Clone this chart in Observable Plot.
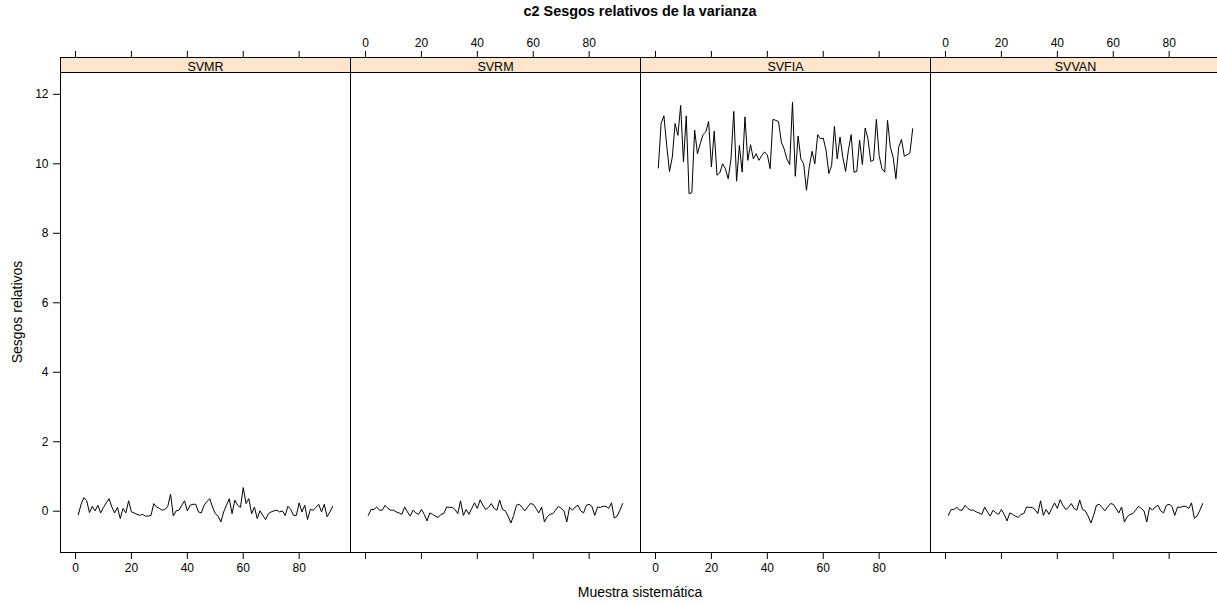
<!DOCTYPE html>
<html><head><meta charset="utf-8">
<script src="https://cdn.jsdelivr.net/npm/d3@7"></script>
<script src="https://cdn.jsdelivr.net/npm/@observablehq/plot@0.6"></script>
<style>
html,body{margin:0;padding:0;background:#fff;overflow:hidden;}
#chart{position:relative;width:1217px;height:604px;font-family:"Liberation Sans",Arial,Helvetica,sans-serif;color:#000;}
.lbl{position:absolute;white-space:nowrap;}
.strip{position:absolute;box-sizing:border-box;height:16px;background:#ffe5cc;border:1px solid #000;text-align:center;font-size:12.5px;line-height:14px;padding-top:2px;overflow:visible;}
</style></head><body>
<div id="chart"></div>
<script>
// ---- data ----
const panels = ["SVMR", "SVRM", "SVFIA", "SVVAN"];
const muestra = d3.range(1, 93);
const SVMR = [-0.10,0.20,0.39,0.30,-0.04,0.14,0.01,0.17,-0.05,0.11,0.24,0.36,0.12,-0.05,0.11,-0.21,0.08,-0.05,0.30,-0.02,
  -0.05,-0.09,-0.12,-0.09,-0.14,-0.14,-0.12,0.22,0.12,0.08,0.03,0.05,0.14,0.49,-0.14,0.01,0.03,0.17,0.30,0.01,
  0.17,0.20,0.20,-0.02,-0.05,0.17,0.28,0.36,0.12,-0.07,-0.14,-0.31,-0.02,0.17,0.36,-0.07,0.32,0.17,0.11,0.68,
  0.22,0.36,-0.07,0.12,-0.21,0.01,-0.12,-0.24,-0.07,-0.02,0.01,0.03,-0.02,0.01,-0.12,0.14,0.05,-0.12,-0.12,0.24,
  -0.02,0.17,-0.24,0.05,0.03,0.11,0.20,-0.02,0.20,-0.16,-0.02,0.14];
const SVRM = [-0.12,0.05,0.05,0.12,0.03,0.03,0.17,0.08,0.03,0.03,-0.02,-0.05,-0.09,0.12,-0.02,-0.14,0.03,-0.05,-0.09,0.05,
  -0.09,-0.28,-0.05,-0.09,-0.14,-0.18,-0.09,-0.07,0.12,0.11,0.11,0.05,-0.07,0.30,-0.12,0.05,-0.09,0.08,0.24,0.08,
  0.33,0.17,0.05,0.11,0.22,0.08,0.03,0.32,0.05,0.01,-0.14,-0.34,-0.12,0.17,0.20,0.11,0.01,0.12,0.22,0.20,
  0.08,-0.05,0.12,-0.31,-0.16,-0.09,-0.07,0.03,0.14,0.08,0.01,-0.31,0.11,0.03,0.12,0.17,0.01,-0.05,0.17,0.20,
  0.14,-0.12,0.12,0.11,0.14,0.14,0.08,0.24,-0.20,-0.14,0.03,0.22];
const SVFIA = [9.88,11.16,11.38,10.53,9.78,10.19,11.16,10.82,11.68,10.05,11.38,9.14,9.17,10.97,10.29,10.58,10.84,10.92,11.22,9.91,
  10.94,9.67,9.74,10.00,9.86,9.57,10.14,11.51,9.50,10.53,9.76,11.35,10.10,10.55,10.14,10.29,10.10,10.24,10.34,10.26,
  9.86,11.28,11.25,11.22,10.63,10.43,10.14,9.98,11.78,9.64,10.80,10.14,10.00,9.24,9.91,10.36,10.00,10.84,10.72,10.74,
  10.39,9.72,9.95,11.08,10.14,10.77,10.19,9.78,10.39,10.84,9.76,9.78,10.68,9.98,11.03,10.72,10.07,10.10,11.28,10.24,
  9.86,9.76,11.25,10.48,10.19,9.57,10.48,10.70,10.22,10.26,10.31,11.01];
const SVVAN = [-0.12,0.05,0.05,0.12,0.03,0.03,0.17,0.08,0.03,0.03,-0.02,-0.05,-0.09,0.12,-0.02,-0.14,0.03,-0.05,-0.09,0.05,
  -0.09,-0.28,-0.05,-0.09,-0.14,-0.18,-0.09,-0.07,0.12,0.11,0.11,0.05,-0.07,0.30,-0.12,0.05,-0.09,0.08,0.24,0.08,
  0.33,0.17,0.05,0.11,0.22,0.08,0.03,0.32,0.05,0.01,-0.14,-0.34,-0.12,0.17,0.20,0.11,0.01,0.12,0.22,0.20,
  0.08,-0.05,0.12,-0.31,-0.16,-0.09,-0.07,0.03,0.14,0.08,0.01,-0.31,0.11,0.03,0.12,0.17,0.01,-0.05,0.17,0.20,
  0.14,-0.12,0.12,0.11,0.14,0.14,0.08,0.24,-0.20,-0.14,0.03,0.22];
const xTicks = [0, 20, 40, 60, 80];
const yTicks = [0, 2, 4, 6, 8, 10, 12];
const titleText = "c2 Sesgos relativos de la varianza";
const xLabel = "Muestra sistemática";
const yLabel = "Sesgos relativos";

// ---- build ----
const seriesByPanel = {SVMR, SVRM, SVFIA, SVVAN};
const rows = panels.flatMap(p => seriesByPanel[p].map((v, i) => ({panel: p, x: muestra[i], y: v})));
const padExt = ([a, b]) => { const r = b - a; return [a - 0.07 * r, b + 0.07 * r]; };
const xDomain = padExt(d3.extent(muestra));
const yDomain = padExt(d3.extent(rows, d => d.y));

const chart = document.getElementById("chart");
const frameLeft = 60, panelW = 290, frameTop = 72, frameBottom = 552, H = 604;
const font = '"Liberation Sans", Arial, Helvetica, sans-serif';

panels.forEach((p, k) => {
  const marks = [
    Plot.line(rows.filter(d => d.panel === p), {x: "x", y: "y", stroke: "#000", strokeWidth: 1}),
    Plot.axisX(xTicks, {anchor: "bottom", tickSize: 7, tickPadding: 4, label: null,
      tickFormat: k % 2 === 0 ? d => d : () => ""}),
    Plot.axisX(xTicks, {anchor: "top", tickSize: 7, tickPadding: 4, dy: -15, label: null,
      tickFormat: k % 2 === 1 ? d => d : () => ""}),
    Plot.frame({stroke: "#000", strokeWidth: 1})
  ];
  if (k === 0) marks.push(Plot.axisY(yTicks, {anchor: "left", tickSize: 7, tickPadding: 5, label: null}));
  const svg = Plot.plot({
    width: frameLeft + panelW, height: H,
    marginLeft: frameLeft, marginRight: 0, marginTop: frameTop, marginBottom: H - frameBottom,
    x: {domain: xDomain, axis: null},
    y: {domain: yDomain, axis: null},
    style: {background: "transparent", overflow: "visible", fontSize: "12px", fontFamily: font, color: "#000"},
    marks
  });
  svg.style.position = "absolute";
  svg.style.left = (k * panelW) + "px";
  svg.style.top = "0px";
  chart.appendChild(svg);

  const s = document.createElement("div");
  s.className = "strip";
  s.style.left = (frameLeft + k * panelW) + "px";
  s.style.top = "57px";
  s.style.width = (panelW + 1) + "px";
  s.textContent = p;
  chart.appendChild(s);
});

const t = document.createElement("div");
t.className = "lbl";
t.style.cssText = "left:60px;width:1160px;top:3px;text-align:center;font-weight:bold;font-size:14.4px;";
t.textContent = titleText;
chart.appendChild(t);

const xl = document.createElement("div");
xl.className = "lbl";
xl.style.cssText = "left:60px;width:1160px;top:584px;text-align:center;font-size:14px;";
xl.textContent = xLabel;
chart.appendChild(xl);

const yl = document.createElement("div");
yl.className = "lbl";
yl.style.cssText = "left:17px;top:312px;font-size:14px;transform:translate(-50%,-50%) rotate(-90deg);";
yl.textContent = yLabel;
chart.appendChild(yl);
</script>
</body></html>
